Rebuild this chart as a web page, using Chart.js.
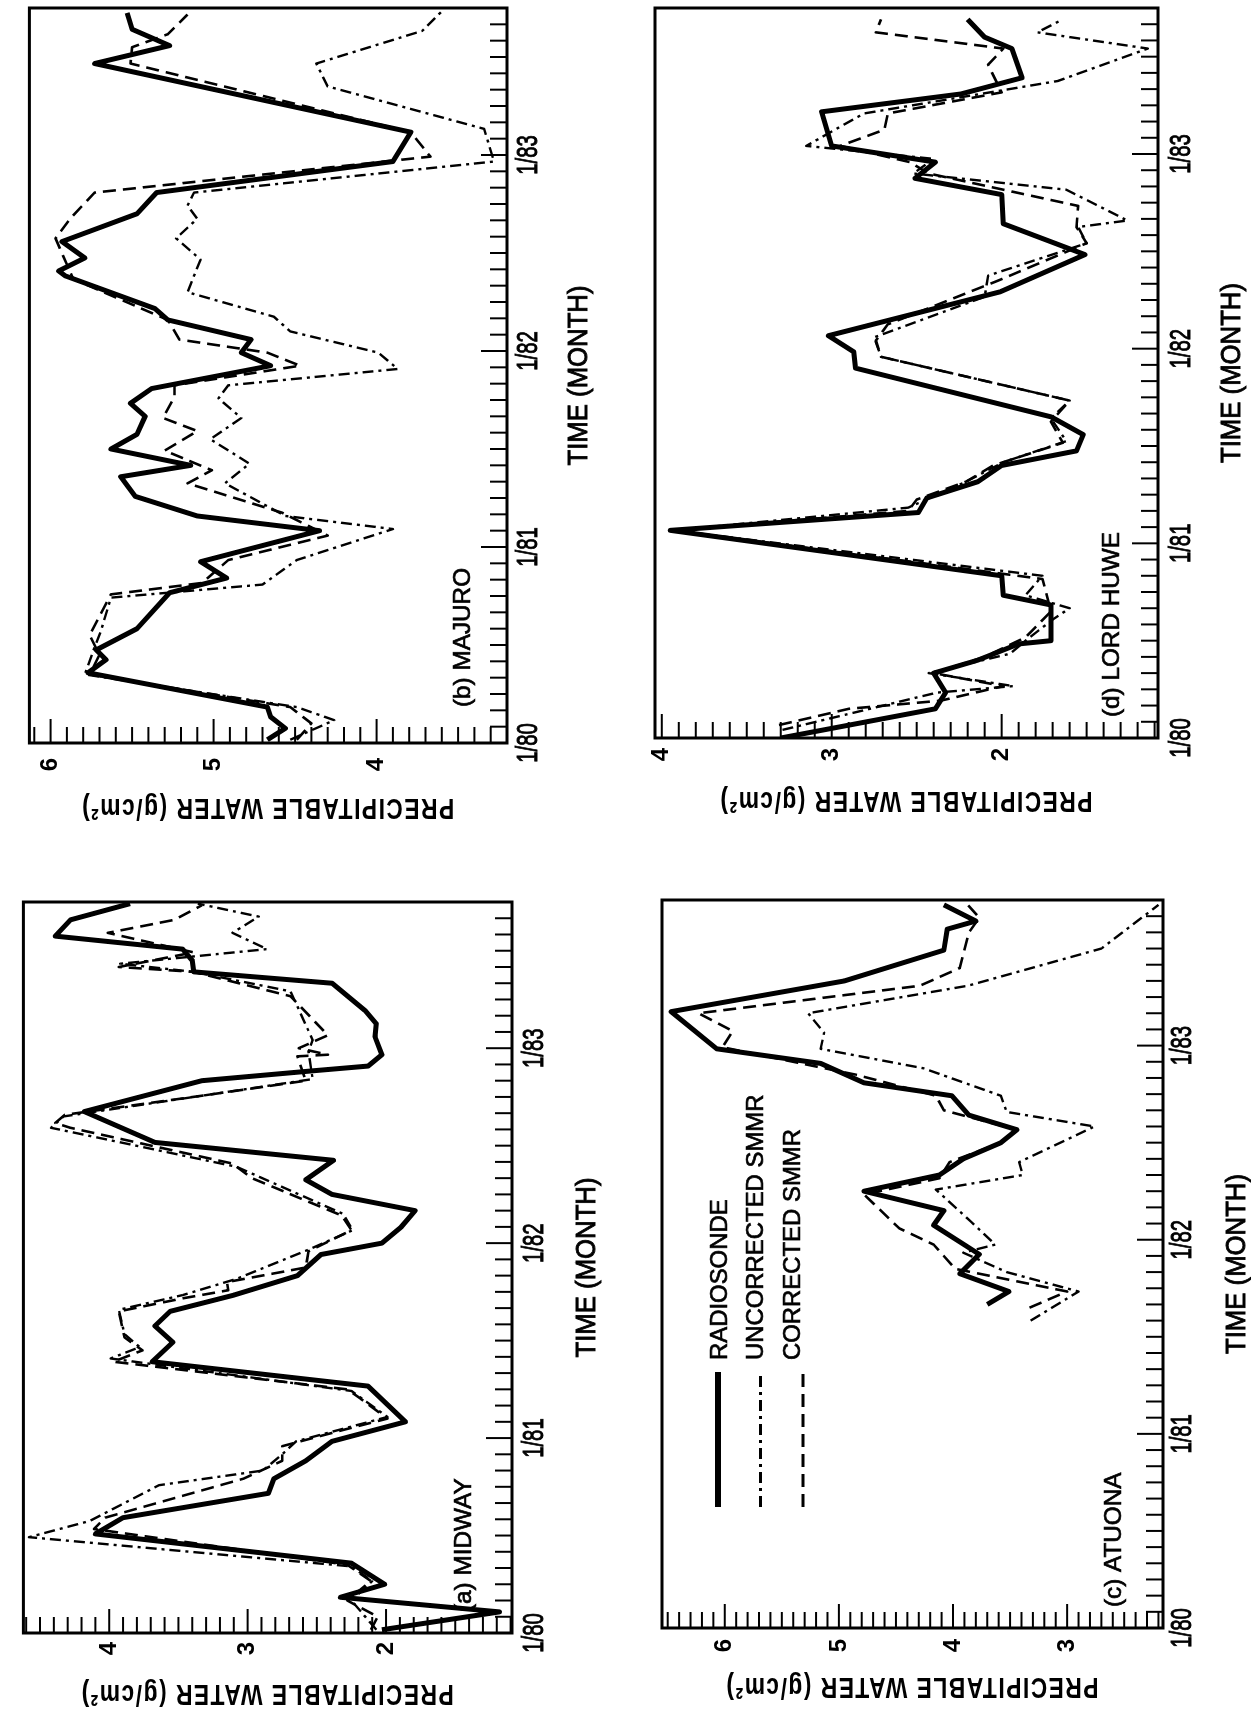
<!DOCTYPE html>
<html>
<head>
<meta charset="utf-8">
<title>Precipitable water: radiosonde vs SMMR</title>
<script src="https://cdn.jsdelivr.net/npm/chart.js@4.4.1/dist/chart.umd.min.js"></script>
<style>
  html, body { margin:0; padding:0; background:#fff; }
  body { width:1251px; height:1725px; position:relative; overflow:hidden; }
  .panel { position:absolute; }
  .rot { position:absolute; left:0; top:0; transform-origin:0 0; }
  canvas { display:block; }
</style>
</head>
<body>
<div class="panel" id="wrap-b"><div class="rot"><canvas id="cv-b"></canvas></div></div>
<div class="panel" id="wrap-d"><div class="rot"><canvas id="cv-d"></canvas></div></div>
<div class="panel" id="wrap-a"><div class="rot"><canvas id="cv-a"></canvas></div></div>
<div class="panel" id="wrap-c"><div class="rot"><canvas id="cv-c"></canvas></div></div>
<script>
// ---------------- data (time in months since 1/80, precipitable water g/cm^2) ----------------
const TIME_TICKS  = [0, 12, 24, 36];
const TIME_LABELS = ['1/80', '1/81', '1/82', '1/83'];
const SERIES_LABELS = ['RADIOSONDE', 'UNCORRECTED SMMR', 'CORRECTED SMMR'];
const PANEL_LABELS  = ['(a) MIDWAY', '(b) MAJURO', '(c) ATUONA', '(d) LORD HUWE'];
const X_TITLE = 'TIME (MONTH)';
const Y_TITLE = 'PRECIPITABLE WATER (g/cm²)';

const MIDWAY_TICKS = [2, 3, 4];
const MAJURO_TICKS = [4, 5, 6];
const ATUONA_TICKS = [3, 4, 5, 6];
const LORD_TICKS   = [2, 3, 4];

// (b) Majuro
const MAJURO_RAD_T = [0.2,0.9,1.6,2.2,4.3,5.1,5.7,7.0,9.2,10.1,11.1,13.0,13.9,15.1,16.3,17.0,18.0,18.9,20.0,20.8,21.7,23.1,23.9,24.7,25.9,26.6,28.6,28.9,29.7,30.7,32.4,33.7,35.6,37.4,41.6,42.7,43.7,44.7];
const MAJURO_RAD_V = [4.67,4.56,4.65,4.67,5.77,5.66,5.72,5.47,5.27,4.92,5.08,4.35,5.10,5.48,5.57,5.14,5.63,5.47,5.42,5.51,5.38,4.65,4.83,4.77,5.28,5.36,5.91,5.95,5.79,5.93,5.47,5.35,3.90,3.79,5.73,5.27,5.50,5.53];
const MAJURO_UNC_T = [0.2,1.4,2.2,4.2,5.6,6.9,8.9,9.7,11.2,13.1,13.9,15.9,17.1,18.6,19.9,21.1,21.9,22.9,23.9,25.2,26.1,27.6,29.6,30.9,32.1,32.9,33.7,35.6,37.6,40.2,41.6,43.6,44.8];
const MAJURO_UNC_V = [4.53,4.26,4.49,5.79,5.74,5.69,5.63,4.70,4.49,3.90,4.56,4.93,4.78,5.02,4.83,4.97,4.91,3.87,3.99,4.53,4.63,5.16,5.08,5.23,5.10,5.16,5.12,3.28,3.34,4.30,4.37,3.72,3.60];
const MAJURO_COR_T = [0.2,1.2,2.2,4.2,5.4,6.6,9.1,9.8,11.2,12.7,14.1,15.9,16.7,17.9,19.1,19.9,21.2,21.9,23.1,23.9,24.7,25.9,28.4,29.3,30.9,32.1,33.7,35.9,37.4,41.6,42.6,43.4,44.6];
const MAJURO_COR_V = [4.49,4.40,4.53,5.76,5.70,5.76,5.63,5.07,4.91,4.30,4.58,5.16,5.01,5.30,5.10,5.31,5.24,5.24,4.47,4.67,5.21,5.28,5.86,5.90,5.97,5.88,5.73,3.67,3.79,5.51,5.50,5.28,5.16];

// (d) Lord Huwe
const LORD_RAD_T = [0,1.8,2.8,4.0,4.8,5.8,6.0,8.2,8.8,10.0,12.8,13.9,14.8,15.8,16.8,17.7,18.7,19.8,22.8,23.8,24.8,27.5,29.8,31.7,33.5,34.5,35.5,36.5,38.6,39.7,40.7,42.5,43.2,44.3];
const LORD_RAD_V = [3.30,2.39,2.33,2.40,2.14,1.90,1.71,1.71,1.99,2.00,3.95,2.49,2.44,2.14,2.00,1.56,1.52,1.71,2.86,2.87,3.02,2.01,1.51,1.99,2.00,2.51,2.39,3.00,3.06,2.24,1.88,1.94,2.10,2.20];
const LORD_UNC_T = [0.5,2.8,3.2,4.0,5.2,6.0,7.3,8.0,8.8,10.0,12.8,14.2,15.8,17.0,18.3,19.7,20.8,23.5,24.7,27.2,28.5,30.5,31.5,31.9,33.8,34.8,35.7,36.5,37.8,38.5,40.5,42.5,43.5,44.3];
const LORD_UNC_V = [3.29,2.38,1.93,2.43,1.95,1.86,1.70,1.60,1.86,1.76,3.93,2.55,2.21,1.99,1.62,1.71,1.60,2.71,2.75,2.10,2.08,1.50,1.55,1.26,1.62,2.52,2.40,3.15,2.93,2.81,1.67,1.14,1.79,1.64];
const LORD_COR_T = [0.8,1.8,2.3,3.2,4.0,5.0,6.2,7.8,9.8,12.8,14.0,14.7,15.8,16.8,18.2,19.5,20.8,23.5,24.5,25.5,28.2,30.5,31.5,32.8,34.8,35.5,36.5,37.5,38.5,39.8,41.5,42.5,43.5,44.3];
const LORD_COR_V = [3.31,2.90,2.36,1.99,2.40,2.10,1.86,1.71,1.76,3.93,2.55,2.50,2.21,2.05,1.64,1.71,1.60,2.71,2.74,2.67,2.02,1.50,1.56,1.55,2.43,2.54,2.95,2.69,2.67,2.00,2.08,1.99,2.74,2.71];

// (a) Midway
const MIDWAY_RAD_T = [0.2,1.3,2.2,3.0,4.3,6.1,7.1,8.6,9.5,10.6,11.8,13.0,15.2,16.7,17.9,18.9,19.8,20.8,22.0,23.3,24.0,25.0,26.0,27.0,27.9,29.1,30.2,32.1,34.0,34.6,34.9,35.6,36.7,37.5,38.3,40.0,40.7,41.4,42.1,42.9,43.9,44.9];
const MIDWAY_RAD_V = [2.03,1.18,2.33,2.01,2.25,4.10,3.90,2.85,2.81,2.58,2.39,1.86,2.13,3.69,3.54,3.67,3.56,3.10,2.64,2.47,2.03,1.89,1.79,2.39,2.58,2.38,3.67,4.18,3.33,2.54,2.13,2.03,2.08,2.07,2.15,2.39,3.39,3.40,3.47,4.39,4.28,3.85];
const MIDWAY_UNC_T = [0.2,2.0,3.2,4.1,5.9,6.9,9.1,10.0,11.0,11.8,13.3,14.9,16.9,17.6,18.4,19.9,20.8,21.8,23.6,24.8,25.8,28.7,31.1,31.8,33.1,34.1,35.8,36.5,39.5,40.7,41.2,42.1,43.1,44.1,44.9];
const MIDWAY_UNC_V = [2.07,2.25,2.10,2.25,4.58,4.14,3.64,2.89,2.75,2.65,1.99,2.25,3.99,3.78,3.89,3.93,3.47,3.08,2.56,2.24,2.31,3.08,4.42,4.33,3.31,2.53,2.56,2.53,2.69,3.39,3.92,2.86,3.11,2.92,3.36];
const MIDWAY_COR_T = [0.2,1.0,2.0,3.2,4.2,6.4,7.1,9.5,10.6,11.5,12.5,13.2,14.4,15.0,16.7,17.4,18.2,19.8,20.6,21.1,21.6,22.5,23.5,24.8,25.7,28.0,28.9,31.1,31.4,31.9,33.1,34.0,35.5,35.6,36.0,36.8,39.2,40.7,41.0,41.9,43.1,43.9,44.8];
const MIDWAY_COR_V = [2.11,2.06,2.28,2.11,2.28,4.11,4.03,3.03,2.75,2.75,2.31,1.99,2.18,2.28,3.97,3.76,3.89,3.93,3.47,3.14,3.15,2.58,2.56,2.25,2.32,2.97,3.11,4.28,4.39,4.32,3.31,2.58,2.64,2.42,2.63,2.42,2.69,3.39,3.93,3.39,4.01,3.53,3.33];

// (c) Atuona
const ATUONA_RAD_T = [20.0,20.8,21.9,23.1,24.9,25.8,27.0,28.0,29.0,30.0,30.8,31.7,32.9,33.7,34.9,35.8,38.1,40.0,41.9,43.2,43.7,44.7];
const ATUONA_RAD_V = [3.70,3.51,3.94,3.77,4.17,4.08,4.78,4.12,3.91,3.58,3.44,3.86,4.01,4.78,5.16,6.07,6.47,4.95,4.08,4.05,3.80,4.08];
const ATUONA_UNC_T = [19.0,20.8,22.0,23.2,23.7,25.1,27.1,28.0,28.8,31.0,31.9,32.9,34.6,35.8,36.8,38.0,39.7,42.0,44.1,44.7];
const ATUONA_UNC_V = [3.32,2.90,3.53,3.91,3.63,3.84,4.15,3.39,3.42,2.76,3.53,3.58,4.26,5.16,5.13,5.27,3.87,2.70,2.31,2.20];
const ATUONA_COR_T = [19.8,20.8,22.2,23.7,24.7,26.8,27.8,28.8,30.0,30.8,32.0,32.9,34.2,35.9,36.9,38.0,39.7,40.8,43.0,43.9,44.7];
const ATUONA_COR_V = [3.33,3.00,3.98,4.17,4.47,4.78,4.12,4.03,3.58,3.44,4.08,4.15,4.85,6.02,5.93,6.23,4.29,3.94,3.86,3.77,3.87];

// ---------------- fonts ----------------
const SANS = '"Liberation Sans", Arial, sans-serif';
const probe = document.createElement('canvas').getContext('2d');
function fitSize(text, weight, target, maxSize) {
  probe.font = `${weight} 100px ${SANS}`;
  const w = probe.measureText(text).width;
  return Math.min(maxSize, Math.round(100 * target / w * 10) / 10);
}
const LEGEND_SIZE = fitSize(SERIES_LABELS[1], 'normal', 266, 26);
const PLABEL_SIZE = fitSize(PANEL_LABELS[1], 'normal', 139, 26);
const VALUE_SIZE  = 24;

// draws a (horizontally condensed) text centred at (x, y) with rotation rot; heavy adds a thin outline
function drawText(ctx, text, x, y, rot, font, opts) {
  ctx.save();
  ctx.font = font;
  const sp = opts.spacing || 0;
  ctx.letterSpacing = sp + 'px';
  const w = ctx.measureText(text).width - sp;
  const sx = opts.target ? opts.target / w : (opts.scale || 1);
  ctx.translate(x, y);
  ctx.rotate(rot);
  ctx.scale(sx, 1);
  ctx.textAlign = 'left';
  ctx.textBaseline = 'middle';
  ctx.fillText(text, -w / 2, 0);
  if (opts.heavy) { ctx.lineWidth = opts.heavy; ctx.strokeStyle = '#000'; ctx.setLineDash([]); ctx.strokeText(text, -w / 2, 0); }
  ctx.restore();
}

// ---------------- styling / layout ----------------
const STYLES = [
  { borderWidth: 5.0, borderDash: [] },
  { borderWidth: 2.4, borderDash: [11, 5, 3, 5] },
  { borderWidth: 2.6, borderDash: [13, 7] }
];

// X,Y,W,H: screen box of the panel; top/bottom: plot edges across (canvas y); yw: width of value axis
const PANELS = [
  { id:'b', label:PANEL_LABELS[1], X:0,   Y:0,   W:625, H:862, top:10, bottom:507, yw:119, right:8,  min:3.2,  max:6.13, ticks:MAJURO_TICKS,
    series:[[MAJURO_RAD_T,MAJURO_RAD_V],[MAJURO_UNC_T,MAJURO_UNC_V],[MAJURO_COR_T,MAJURO_COR_V]],
    valPad:15, yTitleOff:64, xTitleOff:72, tlOff:22, labStart:36, labOff:44, legend:false },
  { id:'d', label:PANEL_LABELS[3], X:625, Y:0,   W:626, H:862, top:30, bottom:533, yw:124, right:8,  min:1.08, max:4.04, ticks:LORD_TICKS,
    series:[[LORD_RAD_T,LORD_RAD_V],[LORD_UNC_T,LORD_UNC_V],[LORD_COR_T,LORD_COR_V]],
    valPad:10, yTitleOff:62, xTitleOff:74, tlOff:24, labStart:21, labOff:46, legend:false },
  { id:'a', label:PANEL_LABELS[0], X:0,   Y:862, W:625, H:863, top:15, bottom:512, yw:92,  right:40, min:1.09, max:4.62, ticks:MIDWAY_TICKS,
    series:[[MIDWAY_RAD_T,MIDWAY_RAD_V],[MIDWAY_UNC_T,MIDWAY_UNC_V],[MIDWAY_COR_T,MIDWAY_COR_V]],
    valPad:9, yTitleOff:60, xTitleOff:75, tlOff:23, labStart:21, labOff:48, legend:false },
  { id:'c', label:PANEL_LABELS[2], X:625, Y:862, W:626, H:863, top:37, bottom:538, yw:97,  right:38, min:2.16, max:6.55, ticks:ATUONA_TICKS,
    series:[[ATUONA_RAD_T,ATUONA_RAD_V],[ATUONA_UNC_T,ATUONA_UNC_V],[ATUONA_COR_T,ATUONA_COR_V]],
    valPad:11, yTitleOff:58, xTitleOff:74, tlOff:20, labStart:21, labOff:49, legend:true }
];

// frame, inner tick marks, time labels, axis titles, panel label and legend
const framePlugin = {
  id: 'frame',
  afterDraw(chart, args, o) {
    const { ctx, chartArea: a, scales: { x, y } } = chart;
    ctx.save();
    ctx.strokeStyle = '#000';
    ctx.fillStyle = '#000';
    ctx.setLineDash([]);
    ctx.lineWidth = 2;
    for (let m = Math.ceil(x.min); m <= Math.floor(x.max); m++) {
      const px = x.getPixelForValue(m);
      const len = (m % 12 === 0) ? 26 : 17;
      ctx.beginPath(); ctx.moveTo(px, a.bottom); ctx.lineTo(px, a.bottom - len); ctx.stroke();
    }
    for (let k = Math.ceil(y.min * 10 - 1e-6); k <= Math.floor(y.max * 10 + 1e-6); k++) {
      const py = y.getPixelForValue(k / 10);
      const len = (k % 10 === 0) ? 24 : 16;
      ctx.beginPath(); ctx.moveTo(a.left, py); ctx.lineTo(a.left + len, py); ctx.stroke();
    }
    ctx.lineWidth = 3;
    ctx.strokeRect(a.left, a.top, a.right - a.left, a.bottom - a.top);

    // time tick labels (condensed lettering as in the original)
    TIME_TICKS.forEach((t, i) => {
      drawText(ctx, TIME_LABELS[i], x.getPixelForValue(t), a.bottom + o.tlOff, 0, `29px ${SANS}`, { scale: 0.7, heavy: 0.9 });
    });
    // axis titles
    drawText(ctx, X_TITLE, (a.left + a.right) / 2, a.bottom + o.xTitleOff, 0, `28px ${SANS}`, { target: 180, heavy: 0.9 });
    drawText(ctx, Y_TITLE, a.left - o.yTitleOff, (a.top + a.bottom) / 2, -Math.PI / 2, `bold 30px ${SANS}`, { target: 372, spacing: 2 });

    // panel label
    ctx.save();
    ctx.font = `${PLABEL_SIZE}px ${SANS}`;
    ctx.letterSpacing = '0px';
    ctx.textBaseline = 'middle';
    ctx.textAlign = 'left';
    ctx.lineWidth = 0.7;
    ctx.fillText(o.label, a.left + o.labStart, a.bottom - o.labOff);
    ctx.strokeText(o.label, a.left + o.labStart, a.bottom - o.labOff);
    ctx.restore();

    if (o.legend) {
      chart.data.datasets.forEach((ds, i) => {
        const ly = a.top + 56 + i * 42.5;
        ctx.save();
        ctx.lineWidth = ds.borderWidth + (i === 0 ? 1 : 0.4);
        ctx.setLineDash(ds.borderDash || []);
        ctx.beginPath(); ctx.moveTo(a.left + 121, ly); ctx.lineTo(a.left + 256, ly); ctx.stroke();
        ctx.restore();
        ctx.save();
        ctx.font = `${LEGEND_SIZE}px ${SANS}`;
        ctx.letterSpacing = '0px';
        ctx.textBaseline = 'middle';
        ctx.textAlign = 'left';
        ctx.lineWidth = 0.7;
        ctx.fillText(ds.label, a.left + 268, a.top + 58 + i * 36.5);
        ctx.strokeText(ds.label, a.left + 268, a.top + 58 + i * 36.5);
        ctx.restore();
      });
    }
    ctx.restore();
  }
};

PANELS.forEach(p => {
  const wrap = document.getElementById('wrap-' + p.id);
  Object.assign(wrap.style, { left: p.X + 'px', top: p.Y + 'px', width: p.W + 'px', height: p.H + 'px' });
  const rot = wrap.firstElementChild;
  Object.assign(rot.style, { width: p.H + 'px', height: p.W + 'px', transform: `translate(0px, ${p.H}px) rotate(-90deg)` });
  const cv = rot.firstElementChild;
  cv.width = p.H; cv.height = p.W;
  cv.style.width = p.H + 'px'; cv.style.height = p.W + 'px';

  const datasets = p.series.map((s, i) => ({
    label: SERIES_LABELS[i],
    data: s[0].map((t, j) => ({ x: t, y: s[1][j] })),
    borderColor: '#000',
    backgroundColor: '#000',
    borderWidth: STYLES[i].borderWidth,
    borderDash: STYLES[i].borderDash,
    borderJoinStyle: 'round',
    pointRadius: 0,
    tension: 0,
    fill: false
  }));

  new Chart(cv, {
    type: 'line',
    data: { datasets },
    options: {
      responsive: false,
      animation: false,
      devicePixelRatio: 1,
      events: [],
      layout: { padding: { top: p.top, right: p.right, left: 0, bottom: 0 } },
      plugins: {
        legend: { display: false },
        tooltip: { enabled: false },
        frame: { label: p.label, legend: p.legend, labStart: p.labStart, labOff: p.labOff,
                 tlOff: p.tlOff, xTitleOff: p.xTitleOff, yTitleOff: p.yTitleOff }
      },
      scales: {
        x: {
          type: 'linear', position: 'bottom', min: 0, max: 45,
          afterBuildTicks: s => { s.ticks = TIME_TICKS.map(v => ({ value: v })); },
          afterFit: s => { s.height = p.W - p.bottom; },
          grid: { display: false, drawTicks: false },
          border: { display: false },
          ticks: { display: false, autoSkip: false },
          title: { display: false }
        },
        y: {
          type: 'linear', position: 'left', min: p.min, max: p.max,
          afterBuildTicks: s => { s.ticks = p.ticks.map(v => ({ value: v })); },
          afterFit: s => { s.width = p.yw; },
          grid: { display: false, drawTicks: false },
          border: { display: false },
          ticks: { padding: p.valPad, color: '#000', font: { family: SANS, size: VALUE_SIZE, weight: 'bold' }, callback: v => String(v) },
          title: { display: false }
        }
      }
    },
    plugins: [framePlugin]
  });
});
</script>
</body>
</html>
